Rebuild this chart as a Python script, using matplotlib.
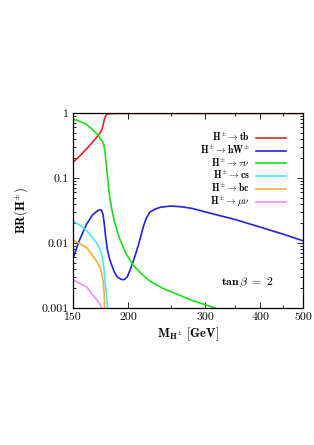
import matplotlib
matplotlib.use("Agg")
import matplotlib.pyplot as plt
from matplotlib.ticker import FixedLocator, FixedFormatter, NullFormatter, LogLocator

plt.rcParams['mathtext.fontset'] = 'cm'
plt.rcParams['font.family'] = 'serif'
plt.rcParams['font.serif'] = ['cmr10', 'DejaVu Serif']
plt.rcParams['axes.formatter.use_mathtext'] = True
plt.rcParams['axes.unicode_minus'] = False

# ---- data ----
m_tb = [150, 155, 160, 165, 170, 173, 174.5, 175.5, 176.5, 177.5, 178.5, 180, 183, 190, 250, 500]
br_tb = [0.175, 0.215, 0.27, 0.34, 0.43, 0.50, 0.56, 0.66, 0.78, 0.88, 0.94, 0.97, 0.98, 0.985, 0.985, 0.985]

m_hw = [150, 155, 161, 166, 170, 172.5, 174, 175.5, 176.5, 177.8, 179.5, 181.5, 183.3, 186, 189, 193, 196,
        199, 202, 205, 208, 211, 214, 217, 220, 224, 230, 237, 250, 265, 280, 300, 350, 400, 450, 500]
br_hw = [0.0059, 0.011, 0.0196, 0.027, 0.031, 0.0325, 0.032, 0.027, 0.020, 0.0125, 0.0078, 0.0057, 0.0047,
         0.0036, 0.0030, 0.00275, 0.00272, 0.0030, 0.0038, 0.0050, 0.0067, 0.0092, 0.013, 0.0185, 0.024,
         0.0297, 0.033, 0.0355, 0.037, 0.036, 0.034, 0.030, 0.023, 0.0175, 0.0137, 0.0108]

m_taunu = [150, 155, 160, 165, 168, 171, 173, 175, 176, 177, 178, 179, 180, 181, 182, 183.5, 186, 189, 192,
           198, 205, 215, 224, 240, 260, 280, 300, 315, 320]
br_taunu = [0.80, 0.75, 0.68, 0.58, 0.51, 0.46, 0.40, 0.36, 0.33, 0.27, 0.19, 0.13, 0.088, 0.062, 0.047,
            0.034, 0.022, 0.015, 0.011, 0.0068, 0.0046, 0.0033, 0.0026, 0.0020, 0.0016, 0.0013, 0.00112,
            0.001, 0.00095]

m_cs = [150, 155, 161, 166, 170, 172, 174, 175.5, 176.5, 177.5, 178.5, 179.5, 180.5]
br_cs = [0.0216, 0.019, 0.0155, 0.012, 0.0098, 0.0085, 0.0068, 0.0050, 0.0037, 0.0024, 0.0016, 0.0011, 0.0008]

m_bc = [150, 155, 161, 166, 170, 172.5, 174, 175.5, 176.3, 176.8, 177.2]
br_bc = [0.0111, 0.0098, 0.0085, 0.0064, 0.0051, 0.0042, 0.0035, 0.0026, 0.0018, 0.0012, 0.0008]

m_munu = [150, 155, 161, 166, 170, 172.5, 174, 175]
br_munu = [0.0027, 0.0024, 0.0021, 0.0016, 0.00132, 0.00115, 0.0010, 0.0009]

labels = [r'$\mathbf{H^{\pm}\rightarrow tb}$',
          r'$\mathbf{H^{\pm}\rightarrow hW^{\pm}}$',
          r'$\mathbf{H^{\pm}}\rightarrow\tau\nu$',
          r'$\mathbf{H^{\pm}\rightarrow cs}$',
          r'$\mathbf{H^{\pm}\rightarrow bc}$',
          r'$\mathbf{H^{\pm}}\rightarrow\mu\nu$']
colors = ['#ee2222', '#2222e0', '#18e018', '#40eef0', '#ffaa33', '#ee90ee']

xticks = [150, 200, 300, 400, 500]
xtick_labels = ['150', '200', '300', '400', '500']
xminor = [250, 350, 450]
yticks = [0.001, 0.01, 0.1, 1]
ytick_labels = ['0.001', '0.01', '0.1', '1']

fig = plt.figure(figsize=(3.14, 4.45), dpi=100)
ax = fig.add_axes([0.233, 0.308, 0.732, 0.438])

series = [(m_tb, br_tb), (m_hw, br_hw), (m_taunu, br_taunu), (m_cs, br_cs), (m_bc, br_bc), (m_munu, br_munu)]
for (mx, by), lab, c in zip(series, labels, colors):
    ax.plot(mx, by, color=c, lw=1.2, label=lab)

ax.set_xscale('log')
ax.set_yscale('log')
ax.set_xlim(150, 500)
ax.set_ylim(0.001, 1)

ax.xaxis.set_major_locator(FixedLocator(xticks))
ax.xaxis.set_major_formatter(FixedFormatter(xtick_labels))
ax.xaxis.set_minor_locator(FixedLocator(xminor))
ax.xaxis.set_minor_formatter(NullFormatter())
ax.yaxis.set_major_locator(FixedLocator(yticks))
ax.yaxis.set_major_formatter(FixedFormatter(ytick_labels))
ax.yaxis.set_minor_locator(LogLocator(base=10, subs=range(2, 10)))
ax.yaxis.set_minor_formatter(NullFormatter())

ax.tick_params(which='both', direction='in', top=True, right=True, labelsize=8.5, width=0.6)
ax.tick_params(which='major', length=4)
ax.tick_params(which='minor', length=2)
for s in ax.spines.values():
    s.set_linewidth(0.9)

ax.set_xlabel(r'$\mathbf{M_{H^{\pm}}\ [GeV]}$', fontsize=9, labelpad=2)
ax.set_ylabel(r'$\mathbf{BR(H^{\pm})}$', fontsize=9, labelpad=8)

leg = ax.legend(loc='upper right', bbox_to_anchor=(0.925, 0.91), frameon=False, markerfirst=False,
                fontsize=7, handlelength=3.1, labelspacing=0.0, handletextpad=0.6, borderpad=0.0,
                borderaxespad=0.0)

ax.text(0.76, 0.13, r'$\mathbf{tan}\,\beta\ \mathbf{=\ 2}$', transform=ax.transAxes,
        ha='center', va='center', fontsize=8.5)

fig.savefig('out.png', dpi=100)
